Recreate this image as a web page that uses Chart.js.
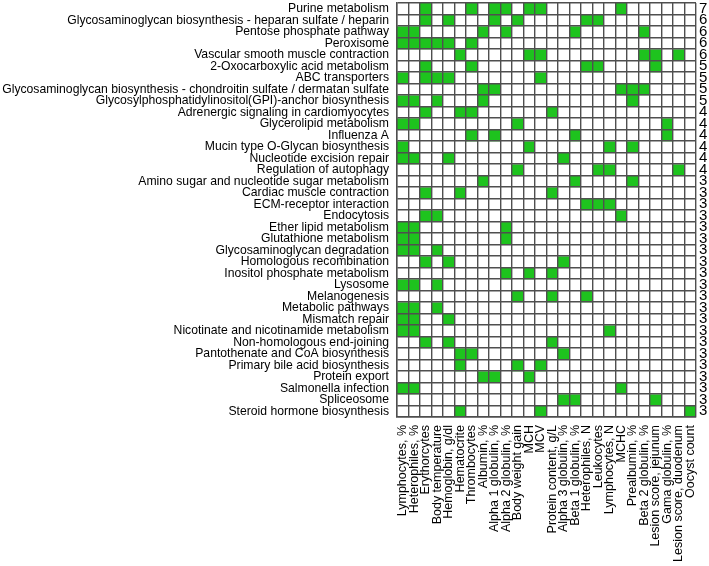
<!DOCTYPE html>
<html>
<head>
<meta charset="utf-8">
<script src="https://cdn.jsdelivr.net/npm/chart.js@4.4.0/dist/chart.umd.min.js"></script>
<style>
html,body{margin:0;padding:0;background:#fff;}
#wrap{width:709px;height:566px;}
</style>
</head>
<body>
<div id="wrap"><canvas id="c" width="709" height="566"></canvas></div>
<script>
const pathways = [
  "Purine metabolism",
  "Glycosaminoglycan biosynthesis - heparan sulfate / heparin",
  "Pentose phosphate pathway",
  "Peroxisome",
  "Vascular smooth muscle contraction",
  "2-Oxocarboxylic acid metabolism",
  "ABC transporters",
  "Glycosaminoglycan biosynthesis - chondroitin sulfate / dermatan sulfate",
  "Glycosylphosphatidylinositol(GPI)-anchor biosynthesis",
  "Adrenergic signaling in cardiomyocytes",
  "Glycerolipid metabolism",
  "Influenza A",
  "Mucin type O-Glycan biosynthesis",
  "Nucleotide excision repair",
  "Regulation of autophagy",
  "Amino sugar and nucleotide sugar metabolism",
  "Cardiac muscle contraction",
  "ECM-receptor interaction",
  "Endocytosis",
  "Ether lipid metabolism",
  "Glutathione metabolism",
  "Glycosaminoglycan degradation",
  "Homologous recombination",
  "Inositol phosphate metabolism",
  "Lysosome",
  "Melanogenesis",
  "Metabolic pathways",
  "Mismatch repair",
  "Nicotinate and nicotinamide metabolism",
  "Non-homologous end-joining",
  "Pantothenate and CoA biosynthesis",
  "Primary bile acid biosynthesis",
  "Protein export",
  "Salmonella infection",
  "Spliceosome",
  "Steroid hormone biosynthesis"
];

const traits = [
  "Lymphocytes, %", "Heterophiles, %", "Erythorcytes", "Body temperature",
  "Hemoglobin, g/dl", "Hematocrite", "Thrombocytes", "Albumin, %",
  "Alpha 1 globulin, %", "Alpha 2 globulin, %", "Body weight gain", "MCH",
  "MCV", "Protein content, g/L", "Alpha 3 globulin, %", "Beta 1 globulin, %",
  "Heterophiles, N", "Leukocytes", "Lymphocytes, N", "MCHC",
  "Prealbumin, %", "Beta 2 globulin, %", "Lesion score, jejunum", "Gama globulin, %",
  "Lesion score, duodenum", "Oocyst count"
];

// indices of traits associated with each pathway (same order as pathways)
const hits = [
  [2,6,8,9,11,12,19],
  [2,4,8,10,16,17],
  [0,1,7,9,15,21],
  [0,1,2,3,4,6],
  [5,11,12,21,22,24],
  [2,6,16,17,22],
  [0,2,3,4,12],
  [7,8,19,20,21],
  [0,1,3,7,20],
  [2,5,6,13],
  [0,1,10,23],
  [6,8,15,23],
  [0,11,18,20],
  [0,1,4,14],
  [10,17,18,24],
  [7,15,20],
  [2,5,13],
  [16,17,18],
  [2,3,19],
  [0,1,9],
  [0,1,9],
  [0,1,3],
  [2,4,14],
  [9,11,13],
  [0,1,3],
  [10,13,16],
  [0,1,3],
  [0,1,4],
  [0,1,18],
  [2,4,13],
  [5,6,14],
  [5,10,12],
  [7,8,11],
  [0,1,19],
  [14,15,22],
  [5,12,25]
];

const counts = ["7","6","6","6","6","5","5","5","5","4","4","4","4","4","4","3","3","3","3","3","3","3","3","3","3","3","3","3","3","3","3","3","3","3","3","3"];

const GREEN = '#1ec31e';
const GRID = '#4f4f4f';
const FONT = 'Liberation Sans, Arial, sans-serif';

const datasets = pathways.map((p, i) => ({
  label: p,
  data: traits.map(() => 1),
  backgroundColor: traits.map((t, j) => hits[i].includes(j) ? GREEN : '#ffffff'),
  borderWidth: 0,
  barPercentage: 1,
  categoryPercentage: 1,
  stack: 's'
}));

function noVPad(s, w) { s.width = w; s.paddingTop = 0; s.paddingBottom = 0; }

new Chart(document.getElementById('c'), {
  type: 'bar',
  data: { labels: traits, datasets: datasets },
  options: {
    responsive: false,
    animation: false,
    events: [],
    layout: { padding: { top: 3, left: 0, right: 0, bottom: 0 } },
    plugins: { legend: { display: false }, tooltip: { enabled: false } },
    scales: {
      x: {
        type: 'category',
        stacked: true,
        offset: true,
        grid: { display: true, offset: true, color: GRID, lineWidth: 1.4, drawTicks: false, z: 1 },
        border: { display: true, color: GRID, width: 1.4, z: 1 },
        ticks: {
          autoSkip: false, minRotation: 90, maxRotation: 90, padding: 8,
          color: '#000', font: { family: FONT, size: 12.5 }
        },
        afterFit: s => { s.height = 149; s.paddingLeft = 0; s.paddingRight = 0; }
      },
      yv: {
        type: 'linear',
        stacked: true,
        reverse: true,
        min: 0,
        max: pathways.length,
        display: false
      },
      y: {
        type: 'category',
        labels: pathways,
        position: 'left',
        offset: true,
        grid: { display: true, offset: true, color: GRID, lineWidth: 1.4, drawTicks: false, z: 1 },
        border: { display: true, color: GRID, width: 1.4, z: 1 },
        ticks: { autoSkip: false, padding: 8, color: '#000', font: { family: FONT, size: 12.2 } },
        afterFit: s => noVPad(s, 397)
      },
      yr: {
        type: 'category',
        labels: counts,
        position: 'right',
        offset: true,
        grid: { display: false, drawTicks: false },
        border: { display: false },
        ticks: { autoSkip: false, padding: 3, color: '#000', font: { family: FONT, size: 15 } },
        afterFit: s => noVPad(s, 13)
      }
    }
  }
});
</script>
</body>
</html>
